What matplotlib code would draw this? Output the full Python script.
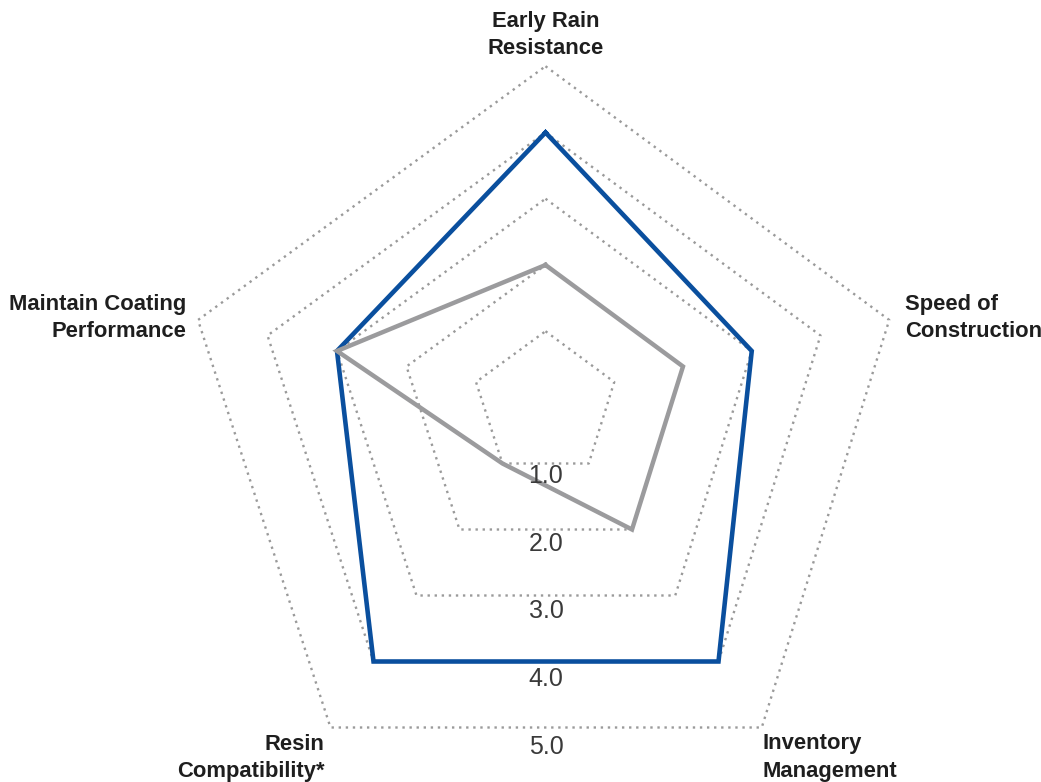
import numpy as np
import matplotlib
matplotlib.use("Agg")
import matplotlib.pyplot as plt

# ---- data ----
categories = ["Early Rain\nResistance", "Speed of\nConstruction", "Inventory\nManagement",
              "Resin\nCompatibility*", "Maintain Coating\nPerformance"]
series_blue = [4, 3, 4, 4, 3]
series_gray = [2, 2, 2, 1, 3]
grid_levels = [1, 2, 3, 4, 5]
tick_labels = ["1.0", "2.0", "3.0", "4.0", "5.0"]

# ---- layout (pixel geometry of the hand-drawn radar) ----
W, H = 1041, 782
center = np.array([545.5, 397.5])
# per-level spoke vectors (px) for each category, clockwise from top
spokes = np.array([[0.0, -66.25],
                   [68.75, -15.5],
                   [43.25, 66.0],
                   [-43.0, 66.0],
                   [-69.5, -15.5]])
tick_vec = np.array([0.0, 67.6])
tick_off = np.array([0.5, 11.0])

fig = plt.figure(figsize=(W / 100, H / 100), dpi=100)
ax = fig.add_axes([0, 0, 1, 1])
ax.set_xlim(0, W)
ax.set_ylim(H, 0)
ax.axis("off")


def poly(values):
    pts = center + np.asarray(values, float)[:, None] * spokes
    return np.vstack([pts, pts[:1]])


# grid
for lv in grid_levels:
    p = poly([lv] * len(categories))
    ax.plot(p[:, 0], p[:, 1], color="#9a9a9a", lw=1.7,
            linestyle=(0, (1, 2)), zorder=1)

# series
pb = poly(series_blue)
ax.plot(pb[:, 0], pb[:, 1], color="#0a4f9e", lw=3.3,
        solid_joinstyle="miter", zorder=3)
pg = poly(series_gray)
ax.plot(pg[:, 0], pg[:, 1], color="#9b9b9d", lw=3.2,
        solid_joinstyle="miter", zorder=4)

# tick labels
for lv, lab in zip(grid_levels, tick_labels):
    x, y = center + lv * tick_vec + tick_off
    ax.text(x, y, lab, ha="center", va="center", fontsize=18,
            family="Liberation Sans", color="#3a3a3a", zorder=5)

# category labels
outer = center + max(grid_levels) * spokes
lab_kw = dict(fontsize=15.8, family="Liberation Sans", fontweight="bold",
              color="#1e1e1e", linespacing=1.38)
ax.text(outer[0, 0], outer[0, 1] - 7, categories[0], ha="center", va="bottom",
        multialignment="center", **lab_kw)
ax.text(outer[1, 0] + 16, outer[1, 1] - 2, categories[1], ha="left", va="center",
        multialignment="left", **lab_kw)
ax.text(outer[2, 0] + 1, outer[2, 1] + 6, categories[2], ha="left", va="top",
        multialignment="left", **lab_kw)
ax.text(outer[3, 0] - 6, outer[3, 1] + 6, categories[3], ha="right", va="top",
        multialignment="right", **lab_kw)
ax.text(outer[4, 0] - 12, outer[4, 1] - 2, categories[4], ha="right", va="center",
        multialignment="right", **lab_kw)

fig.savefig("out.png", dpi=100)
